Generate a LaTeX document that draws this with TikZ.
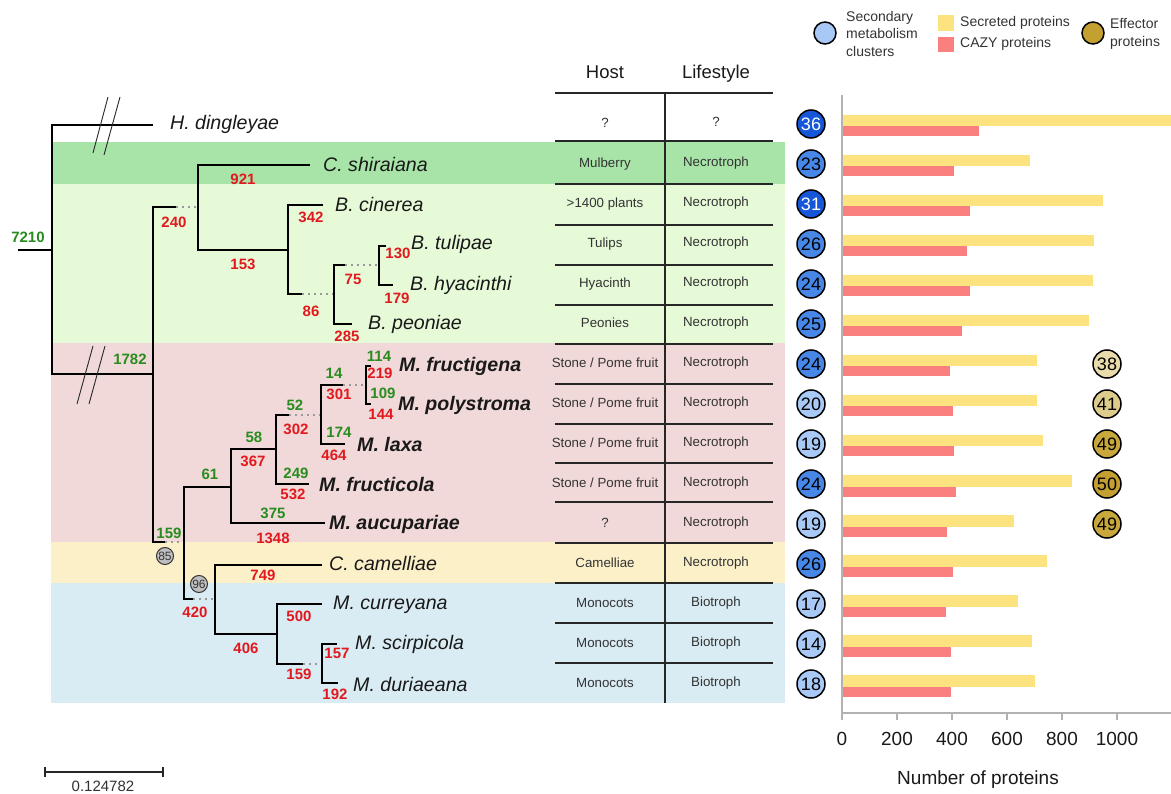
\documentclass[tikz,border=0pt]{standalone}
\usepackage{fontspec}
\setmainfont{Liberation Sans}
\definecolor{bandG}{RGB}{168,228,168}
\definecolor{bandLG}{RGB}{230,250,216}
\definecolor{bandP}{RGB}{242,217,217}
\definecolor{bandY}{RGB}{252,240,200}
\definecolor{bandB}{RGB}{217,236,243}
\definecolor{numred}{RGB}{225,25,30}
\definecolor{numgreen}{RGB}{40,140,30}
\definecolor{secY}{RGB}{253,226,128}
\definecolor{cazyR}{RGB}{250,128,128}
\definecolor{smDark}{RGB}{22,86,216}
\definecolor{smMed}{RGB}{70,135,232}
\definecolor{smLight}{RGB}{168,200,245}
\definecolor{efA}{RGB}{234,220,170}
\definecolor{efB}{RGB}{222,204,140}
\definecolor{efC}{RGB}{200,168,60}
\definecolor{efD}{RGB}{196,160,48}
\tikzset{
  br/.style={line width=2pt, black},
  dotbr/.style={line width=1.6pt, black!40, dash pattern=on 1.6pt off 4.4pt},
  brk/.style={line width=0.9pt, black!85},
  sp/.style={anchor=west, inner sep=0pt, font=\fontsize{19.6}{19.6}\selectfont\itshape, text height=14pt, text depth=0pt, text=black!90},
  spb/.style={sp, font=\fontsize{19.6}{19.6}\selectfont\bfseries\itshape},
  numlab/.style={inner sep=0pt, font=\fontsize{15}{15}\selectfont\bfseries, text height=10.7pt, text depth=0pt},
  rn/.style={numlab, text=numred},
  gn/.style={numlab, text=numgreen},
  bs/.style={circle, draw=black!80, line width=1pt, fill=black!25, inner sep=0pt, minimum size=17pt, font=\fontsize{12}{12}\selectfont, text height=8.6pt, text depth=0pt, text=black!80},
  tline/.style={line width=1.5pt, black!85},
  cell/.style={inner sep=0pt, font=\fontsize{13.3}{13.3}\selectfont, text height=9.5pt, text depth=0pt, text=black!80},
  hdr/.style={inner sep=0pt, font=\fontsize{18.5}{18.5}\selectfont, text height=13.2pt, text depth=0pt, text=black!90},
  smc/.style={circle, draw=black, line width=1.5pt, inner sep=0pt, minimum size=28pt, font=\fontsize{18}{18}\selectfont, text height=12.9pt, text depth=0pt},
  leg/.style={anchor=west, inner sep=0pt, font=\fontsize{14}{14}\selectfont, text height=10pt, text depth=0pt, text=black!80},
  axisln/.style={line width=1.5pt, black!30},
  ticklab/.style={inner sep=0pt, font=\fontsize{19}{19}\selectfont, text height=13.6pt, text depth=0pt, text=black!90},
}
\begin{document}
\begin{tikzpicture}[x=1pt,y=-1pt]
\useasboundingbox (0,0) rectangle (1171,794);
% ---- background bands
\fill[bandG]  (51,142) rectangle (785,184);
\fill[bandLG] (51,184) rectangle (785,343);
\fill[bandP]  (51,343) rectangle (785,542);
\fill[bandY]  (51,542) rectangle (785,583);
\fill[bandB]  (51,583) rectangle (785,703);

% ---- tree coordinates
\coordinate (root) at (18,250);
\coordinate (nR) at (52,250);
\coordinate (nA) at (153,374);
\coordinate (sA1) at (176,207);
\coordinate (sA2) at (165,542);
\coordinate (nB) at (198,207);
\coordinate (nC) at (288,250);
\coordinate (sC2) at (302,294);
\coordinate (nD) at (334,294);
\coordinate (sD1) at (345,265);
\coordinate (nE) at (379,265);
\coordinate (nF) at (184,542);
\coordinate (nG) at (231,487);
\coordinate (sF2) at (193,599);
\coordinate (nK) at (215,599);
\coordinate (nH) at (276,449);
\coordinate (sH1) at (289,415);
\coordinate (nI) at (321,415);
\coordinate (sI1) at (343,385);
\coordinate (nJ) at (366,385);
\coordinate (nL) at (277,634);
\coordinate (sL2) at (303,664);
\coordinate (nM) at (322,664);
% tips
\coordinate (tH) at (153,125);
\coordinate (tCs) at (310,165);
\coordinate (tBc) at (323,205);
\coordinate (tBp) at (352,324);
\coordinate (tBt) at (386,246);
\coordinate (tBh) at (393,285);
\coordinate (tMa) at (325,523);
\coordinate (tMfc) at (309,484);
\coordinate (tMl) at (345,444);
\coordinate (tMfg) at (371,366);
\coordinate (tMp) at (371,404);
\coordinate (tCc) at (322,565);
\coordinate (tMc) at (322,604);
\coordinate (tMs) at (337,644);
\coordinate (tMd) at (338,683);

% ---- branches
\draw[br] (root) -- (nR);
\draw[br] (tH) -| (nR) |- (nA);
\draw[br] (sA1) -| (nA) |- (sA2);
\draw[dotbr] (sA1) -- (nB);
\draw[dotbr] (sA2) -- (nF);
\draw[br] (tCs) -| (nB) |- (nC);
\draw[br] (tBc) -| (nC) |- (sC2);
\draw[dotbr] (sC2) -- (nD);
\draw[br] (sD1) -| (nD) |- (tBp);
\draw[dotbr] (sD1) -- (nE);
\draw[br] (tBt) -| (nE) |- (tBh);
\draw[br] (nG) -| (nF) |- (sF2);
\draw[dotbr] (sF2) -- (nK);
\draw[br] (nH) -| (nG) |- (tMa);
\draw[br] (sH1) -| (nH) |- (tMfc);
\draw[dotbr] (sH1) -- (nI);
\draw[br] (sI1) -| (nI) |- (tMl);
\draw[dotbr] (sI1) -- (nJ);
\draw[br] (tMfg) -| (nJ) |- (tMp);
\draw[br] (tCc) -| (nK) |- (nL);
\draw[br] (tMc) -| (nL) |- (sL2);
\draw[dotbr] (sL2) -- (nM);
\draw[br] (tMs) -| (nM) |- (tMd);

% ---- break marks
\draw[brk] (93,153) -- (108,97);
\draw[brk] (104,155) -- (120,97);
\draw[brk] (77,404) -- (93,346);
\draw[brk] (89,404) -- (105,346);

% ---- species
\node[sp]  (spH)  at (170,123) {H. dingleyae};
\node[sp]  (spCs) at (323,165) {C. shiraiana};
\node[sp]  (spBc) at (335,205) {B. cinerea};
\node[sp]  (spBt) at (411,243) {B. tulipae};
\node[sp]  (spBh) at (410,284) {B. hyacinthi};
\node[sp]  (spBp) at (368,323) {B. peoniae};
\node[spb] (spMfg) at (399,365) {M. fructigena};
\node[spb] (spMp) at (398,404) {M. polystroma};
\node[spb] (spMl) at (357,444) {M. laxa};
\node[spb] (spMfc) at (319,484) {M. fructicola};
\node[spb] (spMa) at (329,522) {M. aucupariae};
\node[sp]  (spCc) at (329,563) {C. camelliae};
\node[sp]  (spMc) at (333,602) {M. curreyana};
\node[sp]  (spMs) at (355,642) {M. scirpicola};
\node[sp]  (spMd) at (353,684) {M. duriaeana};

% ---- green numbers
\node[gn] (g7210) at (28,237) {7210};
\node[gn] (g1782) at (130,359) {1782};
\node[gn] (g114) at (379,356) {114};
\node[gn] (g14) at (334,373) {14};
\node[gn] (g109) at (383,393) {109};
\node[gn] (g52) at (295,405) {52};
\node[gn] (g174) at (339,432) {174};
\node[gn] (g58) at (254,437) {58};
\node[gn] (g249) at (296,473) {249};
\node[gn] (g61) at (210,474) {61};
\node[gn] (g375) at (273,513) {375};
\node[gn] (g159) at (169,533) {159};
% ---- red numbers
\node[rn] (r921) at (243,179) {921};
\node[rn] (r240) at (174,222) {240};
\node[rn] (r342) at (311,217) {342};
\node[rn] (r153) at (243,264) {153};
\node[rn] (r75) at (353,279) {75};
\node[rn] (r130) at (398,253) {130};
\node[rn] (r179) at (397,298) {179};
\node[rn] (r86) at (311,311) {86};
\node[rn] (r285) at (347,336) {285};
\node[rn] (r219) at (380,373) {219};
\node[rn] (r301) at (339,394) {301};
\node[rn] (r144) at (381,414) {144};
\node[rn] (r302) at (296,429) {302};
\node[rn] (r464) at (334,455) {464};
\node[rn] (r367) at (253,461) {367};
\node[rn] (r532) at (293,494) {532};
\node[rn] (r1348) at (273,538) {1348};
\node[rn] (r749) at (263,575) {749};
\node[rn] (r420) at (195,612) {420};
\node[rn] (r500) at (299,616) {500};
\node[rn] (r406) at (246,648) {406};
\node[rn] (r157) at (337,653) {157};
\node[rn] (r159) at (299,674) {159};
\node[rn] (r192) at (335,694) {192};
% ---- bootstrap circles
\node[bs] (b85) at (165,556) {85};
\node[bs] (b96) at (199,584) {96};

% ---- scale bar
\draw[line width=1.2pt, black!85] (45,772) -- (163,772);
\draw[line width=1.2pt, black!85] (45,767) -- (45,777);
\draw[line width=1.2pt, black!85] (163,767) -- (163,777);
\node[inner sep=0pt, font=\fontsize{15}{15}\selectfont, text height=10.7pt, text depth=0pt, text=black!80] (scl) at (103,786) {0.124782};

% ---- table
\node[hdr] (hHost) at (605,72) {Host};
\node[hdr] (hLife) at (716,72) {Lifestyle};
\foreach \yy in {93,141,184,225,265,305,344,384,424,463,502,543,583,623,663}
  \draw[tline] (555,\yy) -- (773,\yy);
\draw[tline] (665,93) -- (665,703);
\foreach \i/\h/\l in {0/?/?, 1/Mulberry/Necrotroph, 2/{>1400 plants}/Necrotroph, 3/Tulips/Necrotroph, 4/Hyacinth/Necrotroph, 5/Peonies/Necrotroph, 6/{Stone / Pome fruit}/Necrotroph, 7/{Stone / Pome fruit}/Necrotroph, 8/{Stone / Pome fruit}/Necrotroph, 9/{Stone / Pome fruit}/Necrotroph, 10/?/Necrotroph, 11/Camelliae/Necrotroph, 12/Monocots/Biotroph, 13/Monocots/Biotroph, 14/Monocots/Biotroph}{
  \node[cell] (host\i) at (605,{123+40*\i}) {\h};
  \node[cell] (life\i) at (716,{122+40*\i}) {\l};
}

% ---- legend
\node[smc, fill=smLight, minimum size=22pt] (legSM) at (825,33) {};
\node[leg] (legSMa) at (846,17) {Secondary};
\node[leg] (legSMb) at (846,34) {metabolism};
\node[leg] (legSMc) at (846,52) {clusters};
\node[fill=secY, inner sep=0pt, minimum width=16pt, minimum height=16pt] (legSec) at (946,23) {};
\node[fill=cazyR, inner sep=0pt, minimum width=16pt, minimum height=15pt] (legCazy) at (946,44.5) {};
\node[leg] (legSecT) at (960,22) {Secreted proteins};
\node[leg] (legCazyT) at (960,43) {CAZY proteins};
\node[smc, fill=efD, minimum size=22pt] (legEf) at (1093,33) {};
\node[leg] (legEfa) at (1110,24) {Effector};
\node[leg] (legEfb) at (1110,42) {proteins};

% ---- bars
\foreach \i/\ye/\re in {0/1171/979, 1/1030/954, 2/1103/970, 3/1094/967, 4/1093/970, 5/1089/962, 6/1037/950, 7/1037/953, 8/1043/954, 9/1072/956, 10/1014/947, 11/1047/953, 12/1018/946, 13/1032/951, 14/1035/951}{
  \fill[secY] (843,{124+40*\i-9}) rectangle (\ye,{124+40*\i+2.5});
  \fill[cazyR] (843,{124+40*\i+2.5}) rectangle (\re,{124+40*\i+12.5});
}
\draw[axisln] (842,95) -- (842,713) -- (1171,713);
\foreach \v in {0,200,400,600,800,1000}{
  \draw[axisln] ({842+0.275*\v},713) -- ({842+0.275*\v},720);
  \node[ticklab] (tk\v) at ({842+0.275*\v},739) {\v};
}
\node[ticklab] (xlab) at (978,778) {Number of proteins};

% ---- secondary metabolism circles
\foreach \i/\n/\c/\t in {0/36/smDark/white, 1/23/smMed/black, 2/31/smDark/white, 3/26/smMed/black, 4/24/smMed/black, 5/25/smMed/black, 6/24/smMed/black, 7/20/smLight/black, 8/19/smLight/black, 9/24/smMed/black, 10/19/smLight/black, 11/26/smMed/black, 12/17/smLight/black, 13/14/smLight/black, 14/18/smLight/black}
  \node[smc, fill=\c, text=\t] (sm\i) at (811,{124+40*\i}) {\n};
% ---- effector circles
\foreach \i/\n/\c in {6/38/efA, 7/41/efB, 8/49/efC, 9/50/efD, 10/49/efC}
  \node[smc, fill=\c] (ef\i) at (1107,{124+40*\i}) {\n};
\end{tikzpicture}
\end{document}
